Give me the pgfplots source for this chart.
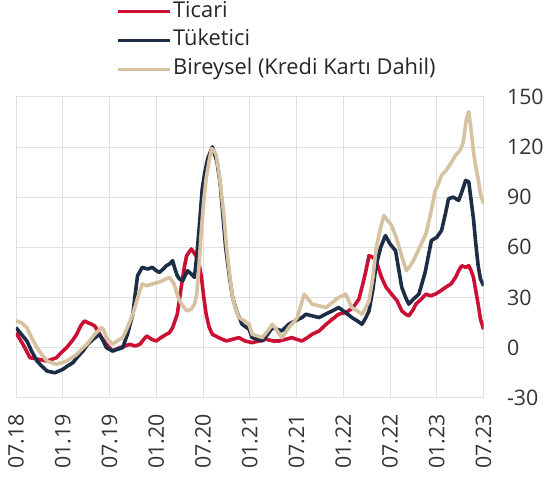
\documentclass[border=0pt]{standalone}
\usepackage{fontspec}
\setmainfont{Open Sans}
\usepackage{pgfplots}
\pgfplotsset{compat=1.18}
\definecolor{TicariRed}{RGB}{204,16,52}
\definecolor{TuketiciNavy}{RGB}{30,45,70}
\definecolor{BireyselTan}{RGB}{214,194,160}
\definecolor{GridGray}{RGB}{224,224,224}

\begin{document}
\begin{tikzpicture}
\begin{axis}[
    scale only axis,
    width=469bp, height=302bp,
    xmin=0, xmax=60, ymin=-30, ymax=150,
    xtick={0,6,...,60},
    xticklabels={07.18,01.19,07.19,01.20,07.20,01.21,07.21,01.22,07.22,01.23,07.23},
    ytick={-30,0,...,150},
    yticklabel pos=right,
    grid=major,
    grid style={GridGray, line width=0.8bp},
    axis line style={GridGray, line width=0.8bp},
    major tick length=0pt,
    /pgf/number format/assume math mode=true,
    tick label style={font=\fontsize{21.5}{25}\selectfont, text=black!80},
    x tick label style={rotate=90, anchor=east, xshift=-13bp},
    y tick label style={anchor=west, xshift=20bp},
    every axis plot/.append style={line width=3.6bp, line join=round, no markers},
    legend cell align=left,
    legend image code/.code={\draw[#1] (0bp,0bp) -- (52bp,0bp);},
    legend style={at={(rel axis cs:0.215,1.32)}, anchor=north west,
        draw=none, fill=none, font=\fontsize{22}{26}\selectfont,
        row sep=7bp, inner sep=0pt,
        nodes={inner sep=1bp, text height=15.5bp, text depth=4.5bp, text=black!85}},
]
\addplot[TicariRed] coordinates {
(0,9) (0.9,2) (1.8,-6) (2.9,-7) (4.0,-8) (5.2,-6) (5.8,-3) (6.5,0) (7.2,4) (7.8,8) (8.3,13) (8.8,16) (9.2,15) (9.7,14) (10.1,13) (10.5,10) (11.0,6) (11.6,2) (12.4,-2) (13.3,0) (14.0,1) (14.6,2) (15.3,1) (15.9,2) (16.4,5) (16.8,7) (17.4,5) (18.0,4) (18.6,6) (19.3,8) (19.7,9) (20.1,12) (20.7,20) (21.2,36) (21.6,48) (21.9,55) (22.5,59) (23.1,55) (23.5,50) (23.8,42) (24.1,30) (24.4,20) (24.8,12) (25.2,8) (26.0,6) (27.0,4) (27.8,5) (28.6,6) (29.4,4) (30.3,3) (31.2,4) (32.1,5) (33.0,4) (33.8,4) (34.6,5) (35.4,6) (36.0,5) (36.7,4) (37.4,6) (38.0,8) (38.9,10) (39.8,14) (40.6,17) (41.4,20) (42.3,21) (43.0,23) (43.4,25) (44.0,29) (44.5,38) (44.9,46) (45.3,55) (45.8,54) (46.2,52) (46.9,42) (47.5,36) (48.2,32) (48.9,28) (49.5,22) (50.0,20) (50.4,19) (51.0,23) (51.3,26) (52.0,29) (52.6,32) (53.2,31) (53.8,32) (54.5,34) (55.1,36) (55.8,38) (56.4,42) (56.8,46) (57.2,49) (57.7,48) (58.1,49) (58.4,46) (58.7,42) (59.0,34) (59.3,26) (59.6,17) (60,11)
};
\addlegendentry{Ticari}
\addplot[TuketiciNavy] coordinates {
(0,12) (0.7,8) (1.4,4) (2.0,-2) (2.7,-8) (3.3,-11) (4.0,-14) (5.0,-15) (6.0,-13) (6.6,-11) (7.3,-9) (8.0,-5) (8.6,-2) (9.2,2) (9.9,5) (10.7,8) (11.2,4) (11.6,0) (12.4,-2) (13.0,-1) (13.7,0) (14.3,8) (15.0,20) (15.3,32) (15.6,43) (16.2,48) (16.9,47) (17.5,48) (18.0,46) (18.4,45) (18.9,47) (19.3,49) (19.7,50) (20.1,52) (20.4,47) (20.7,43) (21.0,41) (21.4,40) (22.0,46) (22.5,44) (22.9,42) (23.2,55) (23.5,71) (23.9,95) (24.2,104) (24.6,113) (25.2,120) (25.8,111) (26.2,98) (26.5,82) (26.9,60) (27.4,42) (27.8,30) (28.3,22) (29.0,14) (29.9,11) (30.3,6) (31.0,5) (31.6,4) (32.3,8) (32.9,12) (33.5,11) (34.1,10) (35.0,14) (35.8,16) (36.7,18) (37.2,20) (38.0,19) (38.9,18) (39.7,20) (40.6,22) (41.4,24) (42.3,21) (43.1,18) (43.8,16) (44.4,14) (44.9,18) (45.3,22) (45.8,35) (46.2,49) (46.8,60) (47.4,67) (48.0,62) (48.7,58) (49.1,47) (49.5,36) (50.0,30) (50.4,26) (51.0,29) (51.7,32) (52.5,45) (53.3,64) (54.0,66) (54.6,70) (55.1,80) (55.5,89) (56.1,90) (56.8,88) (57.2,93) (57.7,100) (58.1,99) (58.4,88) (58.7,77) (59.0,62) (59.3,49) (59.6,41) (60,37)
};
\addlegendentry{Tüketici}
\addplot[BireyselTan] coordinates {
(0,16) (0.7,15) (1.4,12) (2.0,6) (2.7,0) (3.3,-4) (4.0,-8) (5.2,-10) (6.5,-8) (7.2,-6) (7.8,-4) (8.4,-1) (9.1,2) (10.1,8) (11.0,12) (11.3,10) (11.6,6) (12.4,2) (13.0,4) (13.7,6) (14.3,12) (15.0,20) (15.5,28) (15.9,34) (16.2,38) (16.8,37) (17.5,38) (18.2,39) (18.8,40) (19.2,41) (19.7,42) (20.3,38) (20.6,33) (21.0,28) (21.4,25) (21.9,22) (22.5,23) (22.9,26) (23.2,32) (23.5,50) (23.8,71) (24.1,88) (24.4,101) (24.8,112) (25.1,119) (25.4,118) (25.7,115) (26.0,106) (26.3,95) (26.7,78) (27.0,61) (27.4,44) (27.8,30) (28.2,23) (28.6,18) (29.3,16) (29.9,14) (30.3,8) (31.0,7) (31.6,6) (32.3,10) (32.9,14) (33.4,11) (33.8,8) (34.1,6) (34.6,9) (35.0,12) (35.6,15) (36.1,18) (36.6,26) (37.0,32) (37.5,29) (38.0,26) (38.9,25) (39.8,24) (40.6,27) (41.4,30) (42.3,32) (42.7,28) (43.1,24) (43.8,22) (44.4,20) (44.9,24) (45.3,28) (45.8,42) (46.2,59) (46.7,70) (47.2,79) (47.7,76) (48.2,73) (48.7,67) (49.1,61) (49.6,53) (50.1,46) (50.6,49) (51.0,52) (51.8,60) (52.6,68) (53.2,80) (53.8,94) (54.2,98) (54.6,103) (55.2,106) (55.9,111) (56.4,115) (56.8,117) (57.1,119) (57.4,123) (57.6,130) (57.8,137) (58.1,141) (58.4,130) (58.7,117) (59.0,108) (59.3,101) (59.6,92) (60,86)
};
\addlegendentry{Bireysel (Kredi Kartı Dahil)}
\end{axis}
\path (-16bp,-83bp) rectangle (531bp,399bp);
\end{tikzpicture}
\end{document}
